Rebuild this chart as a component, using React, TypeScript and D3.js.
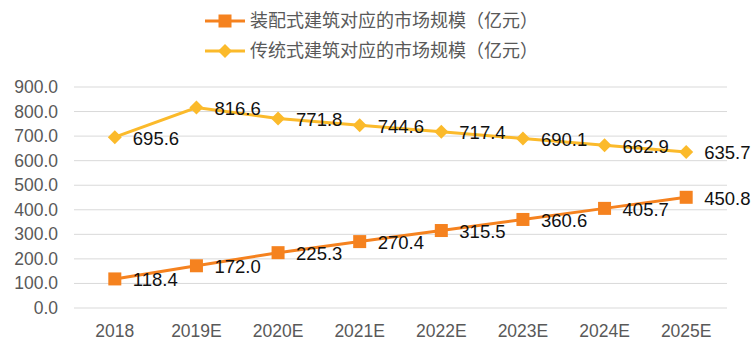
import React from "react";
import * as d3 from "d3";

const categories = ["2018", "2019E", "2020E", "2021E", "2022E", "2023E", "2024E", "2025E"];
const prefabValues = [118.4, 172.0, 225.3, 270.4, 315.5, 360.6, 405.7, 450.8];
const traditionalValues = [695.6, 816.6, 771.8, 744.6, 717.4, 690.1, 662.9, 635.7];
const yTicks = [0, 100, 200, 300, 400, 500, 600, 700, 800, 900];
const seriesNames = ["装配式建筑对应的市场规模（亿元）", "传统式建筑对应的市场规模（亿元）"];

const W = 754, H = 357;
const left = 74, right = 727, top = 87, bottom = 308;
const orange = "#F5821F";
const yellow = "#FBBA2B";
const font = "'Liberation Sans', Arial, 'Noto Sans CJK SC', sans-serif";

export default function App() {
  const x = d3.scaleBand<string>().domain(categories).range([left, right]);
  const y = d3.scaleLinear().domain([0, 900]).range([bottom, top]);
  const cx = (c: string) => (x(c) as number) + x.bandwidth() / 2;
  const line = d3.line<number>().x((_, i) => cx(categories[i])).y((v) => y(v));
  const diamond = (px: number, py: number, r: number) =>
    `M${px},${py - r}L${px + r},${py}L${px},${py + r}L${px - r},${py}Z`;

  return (
    <svg width={W} height={H} style={{ position: "absolute", left: 0, top: 0, fontFamily: font }}>
      <rect width={W} height={H} fill="#fff" />
      {yTicks.map((t) => (
        <g key={t}>
          <line x1={left} x2={right} y1={y(t)} y2={y(t)} stroke="#D9D9D9" strokeWidth={1} />
          <text x={58} y={y(t)} textAnchor="end" dominantBaseline="central" fontSize={17.5} fill="#595959">
            {t.toFixed(1)}
          </text>
        </g>
      ))}
      {categories.map((c) => (
        <text key={c} x={cx(c)} y={331} textAnchor="middle" dominantBaseline="central" fontSize={17.5} fill="#595959">
          {c}
        </text>
      ))}
      <path d={line(traditionalValues) || ""} fill="none" stroke={yellow} strokeWidth={3} />
      <path d={line(prefabValues) || ""} fill="none" stroke={orange} strokeWidth={3} />
      {traditionalValues.map((v, i) => (
        <g key={"t" + i}>
          <path d={diamond(cx(categories[i]), y(v), 7)} fill={yellow} />
          <text x={cx(categories[i]) + 18} y={y(v) + 1} dominantBaseline="central" fontSize={18.5} fill="#111">
            {v.toFixed(1)}
          </text>
        </g>
      ))}
      {prefabValues.map((v, i) => (
        <g key={"p" + i}>
          <rect x={cx(categories[i]) - 6.5} y={y(v) - 6.5} width={13} height={13} fill={orange} />
          <text x={cx(categories[i]) + 18} y={y(v) + 1} dominantBaseline="central" fontSize={18.5} fill="#111">
            {v.toFixed(1)}
          </text>
        </g>
      ))}
      {/* legend */}
      <g>
        <line x1={205} x2={245} y1={21} y2={21} stroke={orange} strokeWidth={3} />
        <rect x={218.5} y={14.5} width={13} height={13} fill={orange} />
        <text x={250} y={21} dominantBaseline="central" fontSize={18} fill="#595959">{seriesNames[0]}</text>
        <line x1={205} x2={245} y1={51} y2={51} stroke={yellow} strokeWidth={3} />
        <path d={diamond(225, 51, 7)} fill={yellow} />
        <text x={250} y={51} dominantBaseline="central" fontSize={18} fill="#595959">{seriesNames[1]}</text>
      </g>
    </svg>
  );
}
